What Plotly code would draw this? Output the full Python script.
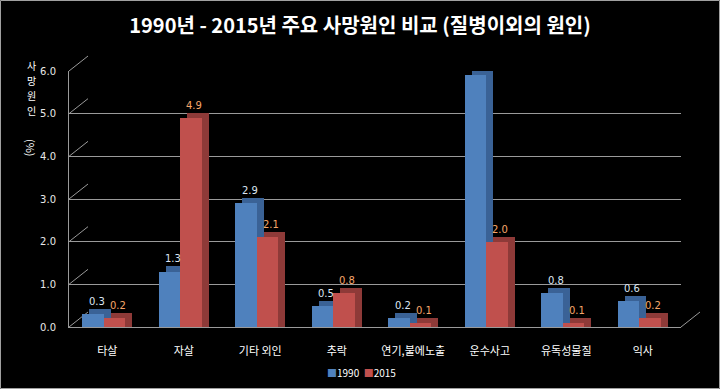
import plotly.graph_objects as go

categories = ["타살", "자살", "기타 외인", "추락", "연기,불에노출", "운수사고", "유독성물질", "익사"]
values_1990 = [0.3, 1.3, 2.9, 0.5, 0.2, 5.9, 0.8, 0.6]
values_2015 = [0.2, 4.9, 2.1, 0.8, 0.1, 2.0, 0.1, 0.2]
y_ticks = [0, 1, 2, 3, 4, 5, 6]
y_tick_labels = ["0.0", "1.0", "2.0", "3.0", "4.0", "5.0", "6.0"]
y_title_chars = ["사", "망", "원", "인"]

W, H = 720, 389
ML, MR, MT, MB = 69, 20, 56, 62
PW, PH = W - ML - MR, H - MT - MB
DX_WALL, DY_WALL = 19, 15
x_front_dom = [0, (PW - DX_WALL) / PW]
y_front_dom = [0, (PH - DY_WALL) / PH]
x_back_dom = [DX_WALL / PW, 1]
y_back_dom = [DY_WALL / PH, 1]
YMAX = 6
CAT_PX = (PW - DX_WALL) / len(categories)

bar_w = 0.28
depth_x = 0.09
depth_y = 0.12
grid_col = "#9a9a9a"

fig = go.Figure()
annotations = []

series = [
    ("1990", values_1990, "#4F81BD", "#3A6296", "#dce6f2", -bar_w - depth_x / 2),
    ("2015", values_2015, "#C0504D", "#8E3A38", "#F5A66A", -depth_x / 2),
]
for name, vals, front, side, tcol, off in series:
    fig.add_trace(go.Bar(
        x=categories, y=[v + depth_y for v in vals], base=[0] * len(vals),
        offset=off + depth_x, width=bar_w, marker=dict(color=side, line=dict(width=0)),
        showlegend=False, hoverinfo="skip"))
    fig.add_trace(go.Bar(
        x=categories, y=vals, offset=off, width=bar_w, name=name, showlegend=False,
        marker=dict(color=front, line=dict(width=0)), hoverinfo="x+y"))
    for c, v in zip(categories, vals):
        annotations.append(dict(
            x=c, y=v + depth_y, xref="x", yref="y", text=f"{v:.1f}", showarrow=False,
            xanchor="center", yanchor="bottom", yshift=0,
            xshift=(off + bar_w / 2 + depth_x / 2) * CAT_PX,
            font=dict(size=10, color=tcol, family="DejaVu Sans")))

fig.add_trace(go.Scatter(x=[], y=[], xaxis="x2", yaxis="y2", showlegend=False))

shapes = []
for v in y_ticks:
    yf = y_front_dom[0] + v / YMAX * (y_front_dom[1] - y_front_dom[0])
    yb = y_back_dom[0] + v / YMAX * (y_back_dom[1] - y_back_dom[0])
    shapes.append(dict(type="line", xref="paper", yref="paper", x0=0, y0=yf,
                       x1=x_back_dom[0], y1=yb, line=dict(color=grid_col, width=1), layer="below"))
shapes.append(dict(type="line", xref="paper", yref="paper", x0=x_front_dom[1], y0=0,
                   x1=1, y1=y_back_dom[0], line=dict(color=grid_col, width=1), layer="below"))
shapes.append(dict(type="rect", xref="paper", yref="paper",
                   x0=-ML / PW + 0.5 / PW, x1=(W - ML - 0.5) / PW,
                   y0=-MB / PH + 0.5 / PH, y1=(H - MB - 0.5) / PH,
                   line=dict(color="#a0a0a0", width=1)))

# vertical axis title, one glyph per annotation
for i, ch in enumerate(y_title_chars):
    annotations.append(dict(text=ch, xref="paper", yref="paper",
                            x=(31 - ML) / PW, y=(H - MB - (65 + 15 * i)) / PH,
                            xanchor="center", yanchor="middle", showarrow=False,
                            font=dict(size=10, color="white", family="Noto Sans CJK KR")))
annotations.append(dict(text="(%)", textangle=90, xref="paper", yref="paper",
                        x=(31 - ML) / PW, y=(H - MB - 148) / PH,
                        xanchor="center", yanchor="middle", showarrow=False,
                        font=dict(size=11, color="white", family="Noto Sans CJK KR")))

annotations.append(dict(
    text=("<span style='color:#4F81BD'>■</span>1990  "
          "<span style='color:#C0504D'>■</span>2015"),
    xref="paper", yref="paper", x=(361 - ML) / PW, y=-(372 - (H - MB)) / PH,
    xanchor="center", yanchor="middle", showarrow=False,
    font=dict(size=10, color="white", family="Noto Sans CJK KR")))

fig.update_layout(
    template="none",
    width=W, height=H,
    margin=dict(l=ML, r=MR, t=MT, b=MB, autoexpand=False),
    paper_bgcolor="black", plot_bgcolor="rgba(0,0,0,0)",
    barmode="overlay", showlegend=False,
    title=dict(text="<b>1990년 - 2015년 주요 사망원인 비교 (질병이외의 원인)</b>",
               x=0.5, xref="container", xanchor="center", y=1 - 26 / H, yanchor="middle",
               font=dict(family="Noto Sans CJK KR", size=20, color="white")),
    font=dict(family="Noto Sans CJK KR", color="white"),
    xaxis=dict(domain=x_front_dom, showgrid=False, showline=True, linecolor=grid_col,
               linewidth=1, ticks="", automargin=False, tickfont=dict(size=11, color="white",
               family="Noto Sans CJK KR"), ticklabelstandoff=14, fixedrange=True),
    yaxis=dict(domain=y_front_dom, range=[0, YMAX], tickvals=y_ticks, ticktext=y_tick_labels,
               showgrid=False, zeroline=False, showline=True, linecolor=grid_col, linewidth=1,
               ticks="", ticklabelstandoff=10, automargin=False,
               tickfont=dict(size=10, color="#e8e8e8", family="DejaVu Sans")),
    xaxis2=dict(domain=x_back_dom, range=[0, 1], visible=False, anchor="y2", overlaying="x"),
    yaxis2=dict(domain=y_back_dom, range=[0, YMAX], tickvals=y_ticks, showticklabels=False,
                showgrid=True, gridcolor=grid_col, gridwidth=1, zeroline=False, showline=False,
                anchor="x2", overlaying="y", automargin=False),
    shapes=shapes,
    annotations=annotations,
    bargap=0,
)

fig.write_html("out.html", config={"displayModeBar": False},
               post_script="document.body.style.margin='0';")
